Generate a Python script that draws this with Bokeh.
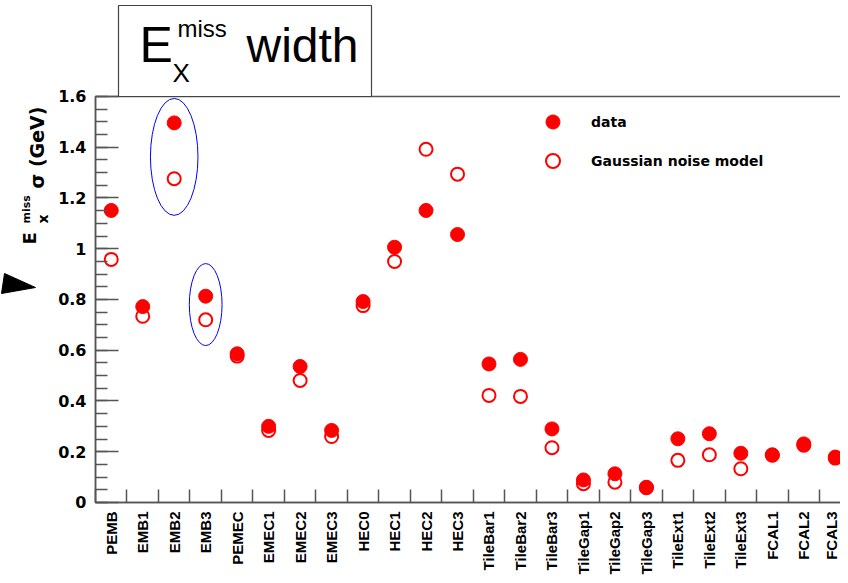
import math
from bokeh.plotting import figure
from bokeh.models import (FixedTicker, Label, Legend, LegendItem, BoxAnnotation,
                          PolyAnnotation, Range1d)
from bokeh.embed import file_html
from bokeh.resources import INLINE

categories = ["PEMB", "EMB1", "EMB2", "EMB3", "PEMEC", "EMEC1", "EMEC2", "EMEC3",
              "HEC0", "HEC1", "HEC2", "HEC3", "TileBar1", "TileBar2", "TileBar3",
              "TileGap1", "TileGap2", "TileGap3", "TileExt1", "TileExt2", "TileExt3",
              "FCAL1", "FCAL2", "FCAL3"]
data_sigma = [1.151, 0.772, 1.496, 0.813, 0.586, 0.300, 0.536, 0.284,
              0.792, 1.006, 1.151, 1.056, 0.546, 0.564, 0.290,
              0.089, 0.113, 0.060, 0.251, 0.271, 0.194,
              0.188, 0.231, 0.179]
model_sigma = [0.958, 0.734, 1.276, 0.720, 0.577, 0.284, 0.481, 0.260,
               0.776, 0.950, 1.392, 1.294, 0.422, 0.418, 0.216,
               0.074, 0.080, 0.058, 0.166, 0.188, 0.133,
               0.186, 0.226, 0.175]
y_major = [0, 0.2, 0.4, 0.6, 0.8, 1.0, 1.2, 1.4, 1.6]
y_labels = ["0", "0.2", "0.4", "0.6", "0.8", "1", "1.2", "1.4", "1.6"]

n = len(categories)
xs = list(range(n))
edges = [i - 0.5 for i in range(n + 1)]
y_minor = [round(i * 0.05, 2) for i in range(33)]

BOLD = "DejaVu Sans"
AXC = "#555555"

# The frame covers the whole canvas; axes sit at fixed data locations so that
# the title box and the axis title (annotations) are not clipped.
W, H = 840, 575
p = figure(width=W, height=H, output_backend="svg", toolbar_location=None,
           x_range=Range1d(-3.518, 23.166), y_range=Range1d(-0.2877, 1.9783),
           min_border=0)
p.grid.visible = False
p.outline_line_color = None
p.background_fill_color = "white"
p.border_fill_color = "white"

# x axis: labels at bin centres, ticks at bin edges
xa = p.xaxis[0]
xa.fixed_location = 0
xa.bounds = (-0.5, n - 0.5)
xa.ticker = FixedTicker(ticks=xs, minor_ticks=edges)
xa.major_label_overrides = {i: c for i, c in enumerate(categories)}
xa.major_label_orientation = math.pi / 2
xa.major_tick_in = 0
xa.major_tick_out = 0
xa.minor_tick_in = 13
xa.minor_tick_out = 0
xa.minor_tick_line_color = AXC
xa.minor_tick_line_width = 1.5
xa.axis_line_color = AXC
xa.axis_line_width = 1.5
xa.major_label_standoff = 9
xa.major_label_text_font = "Liberation Sans"
xa.major_label_text_font_style = "bold"
xa.major_label_text_font_size = "15px"
xa.major_label_text_color = "black"

# y axis
ya = p.yaxis[0]
ya.fixed_location = -0.5
ya.bounds = (0, 1.6)
ya.ticker = FixedTicker(ticks=y_major, minor_ticks=y_minor)
ya.major_label_overrides = {v: s for v, s in zip(y_major, y_labels)}
ya.major_tick_in = 23
ya.major_tick_out = 0
ya.minor_tick_in = 12
ya.minor_tick_out = 0
ya.major_tick_line_color = AXC
ya.minor_tick_line_color = AXC
ya.axis_line_color = AXC
ya.axis_line_width = 1.5
ya.major_tick_line_width = 1.5
ya.minor_tick_line_width = 1.5
ya.major_label_standoff = 9
ya.major_label_text_font = BOLD
ya.major_label_text_font_style = "bold"
ya.major_label_text_font_size = "16px"
ya.major_label_text_color = "black"

# plot-area frame (top edge visible, right edge beyond the window)
p.add_layout(BoxAnnotation(left=-0.5, right=n - 0.5, bottom=0, top=1.6,
                           fill_alpha=0, line_color=AXC, line_alpha=1,
                           line_width=1.5, level="underlay"))

# highlight ellipses
p.ellipse(x=[2], y=[1.362], width=1.51, height=0.461, fill_color=None,
          line_color="#0000ff", line_width=1)
p.ellipse(x=[3], y=[0.78], width=1.04, height=0.323, fill_color=None,
          line_color="#0000ff", line_width=1)

r_model = p.scatter(xs, model_sigma, size=13, fill_color="white", fill_alpha=0,
                    line_color="#ff0000", line_width=2)
r_data = p.scatter(xs, data_sigma, size=14, fill_color="#ff0000",
                   line_color="#ff0000", line_width=1)

legend = Legend(items=[LegendItem(label="data", renderers=[r_data]),
                       LegendItem(label="Gaussian noise model", renderers=[r_model])],
                location=(535, 397), padding=0, margin=0, spacing=4,
                glyph_width=35, glyph_height=35, label_standoff=21,
                label_text_font=BOLD, label_text_font_style="bold",
                label_text_font_size="14px", label_text_color="black",
                border_line_alpha=0, background_fill_alpha=0)
p.add_layout(legend, "center")

# title box
p.add_layout(BoxAnnotation(left=118, right=371, top=5, bottom=96,
                           left_units="canvas", right_units="canvas",
                           top_units="canvas", bottom_units="canvas",
                           fill_color="white", fill_alpha=1,
                           line_color="#444444", line_alpha=1, line_width=1.2,
                           level="overlay"))
TF = "Liberation Sans"
for txt, x, y, sz in [("E", 139, 44, "50px"), ("X", 172, 72, "26px"),
                      ("miss", 177, 28, "24px"), ("width", 246, 45, "48px")]:
    p.add_layout(Label(x=x, y=y, x_units="canvas", y_units="canvas", text=txt,
                       text_font=TF, text_font_size=sz, text_color="black",
                       text_baseline="alphabetic", level="overlay"))

# y axis title
for txt, x, y, sz in [("E", 29, 244, "18px"), ("x", 42, 223, "14px"),
                      ("miss", 26, 223, "11px"), ("\u03c3 (GeV)", 36, 188, "19px")]:
    p.add_layout(Label(x=x, y=y, x_units="canvas", y_units="canvas", text=txt,
                       angle=math.pi / 2, text_font=BOLD, text_font_style="bold",
                       text_font_size=sz, text_color="black",
                       text_baseline="alphabetic"))

# arrow marker on the left
p.add_layout(PolyAnnotation(xs=[4, 35, 1], ys=[273, 287, 293],
                            xs_units="canvas", ys_units="canvas",
                            fill_color="black", fill_alpha=1, line_color="black",
                            line_alpha=1))

open("out.html", "w").write(file_html(p, INLINE))
